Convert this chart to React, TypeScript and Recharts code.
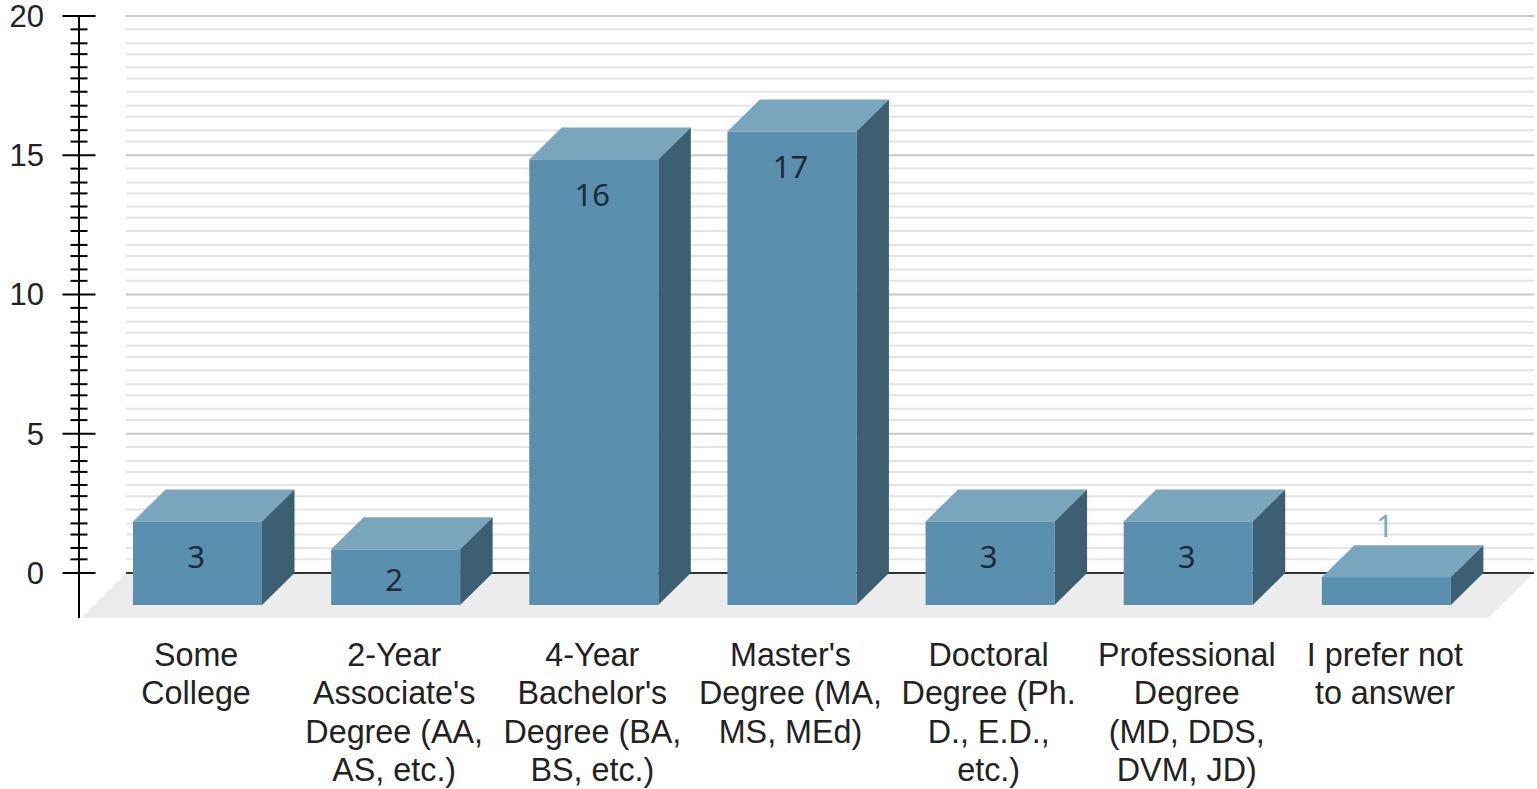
import { Bar, BarChart, CartesianGrid, LabelList, ReferenceArea, XAxis, YAxis } from "recharts"

const CATEGORIES = [
  "Some\nCollege",
  "2-Year\nAssociate's\nDegree (AA,\nAS, etc.)",
  "4-Year\nBachelor's\nDegree (BA,\nBS, etc.)",
  "Master's\nDegree (MA,\nMS, MEd)",
  "Doctoral\nDegree (Ph.\nD., E.D.,\netc.)",
  "Professional\nDegree\n(MD, DDS,\nDVM, JD)",
  "I prefer not\nto answer",
]
const COUNTS = [3, 2, 16, 17, 3, 3, 1]

const MAJOR_TICKS = [0, 5, 10, 15, 20]
const MINOR_STEPS = [0.49, 0.9, 1.38, 1.78, 2.28, 2.76, 3.16, 3.63, 4.02, 4.52]
const ALL_TICKS = MAJOR_TICKS.flatMap((m) => (m === 20 ? [m] : [m, ...MINOR_STEPS.map((s) => m + s)]))

const data = CATEGORIES.map((name, i) => ({ name, count: COUNTS[i] }))

const WIDTH = 1537
const HEIGHT = 789
const AXIS_X = 79
const WALL_X = 126
const DEPTH_X = 32.5
const DEPTH_Y = 32

const BarBox = ({ x, y, width, height }: any) => {
  const fx = x + width
  const topY = y + DEPTH_Y
  const botY = y + height + DEPTH_Y
  return (
    <g>
      <polygon points={`${x},${topY} ${x + DEPTH_X},${y} ${fx + DEPTH_X},${y} ${fx},${topY}`} fill="#79a6bd" />
      <polygon points={`${fx},${topY} ${fx + DEPTH_X},${y} ${fx + DEPTH_X},${y + height} ${fx},${botY}`} fill="#3c5f71" />
      <rect x={x} y={topY} width={width} height={height} fill="#5a8fae" />
    </g>
  )
}

const CountLabel = ({ x, y, width, value }: any) => {
  const cx = x + width / 2 - 1.5
  const above = value === 1
  const dy = value === 2 ? 41.5 : 46.5
  return (
    <text
      x={cx}
      y={above ? y + DEPTH_Y - 40 : y + DEPTH_Y + dy}
      textAnchor="middle"
      fontFamily="Noto Sans"
      fontSize={31}
      fill={above ? "#7fa9c0" : "#1c2b3a"}
    >
      {value}
    </text>
  )
}

const YTick = ({ y, payload }: any) => {
  const major = MAJOR_TICKS.includes(payload.value)
  return (
    <g>
      <line
        x1={major ? AXIS_X - 16.5 : AXIS_X - 8.5}
        x2={major ? AXIS_X + 16.5 : AXIS_X + 8.5}
        y1={y}
        y2={y}
        stroke="#000"
        strokeWidth={2}
      />
      {major && (
        <text x={44} y={y + 11} textAnchor="end" fontFamily="Liberation Sans" fontSize={31} fill="#222">
          {payload.value}
        </text>
      )}
    </g>
  )
}

const XTick = ({ x, payload }: any) => (
  <text textAnchor="middle" fontFamily="Liberation Sans" fontSize={32.3} fill="#222">
    {String(payload.value)
      .split("\n")
      .map((line, i) => (
        <tspan key={i} x={x - 1} y={666 + i * 38.4}>
          {line}
        </tspan>
      ))}
  </text>
)

const GridLine = ({ y1, x2, index }: any) => {
  const value = ALL_TICKS[index]
  const isZero = value === 0
  const major = MAJOR_TICKS.includes(value)
  return (
    <line
      key={index}
      x1={WALL_X}
      x2={x2}
      y1={y1}
      y2={y1}
      stroke={isZero ? "#333" : major ? "#c8c8c8" : "#e4e4e4"}
      strokeWidth={2}
    />
  )
}

// floor sits just under the zero line so it doesn't cover it
const Floor = ({ y, height }: any) => {
  const t = y + 1
  const b = y + height
  return <polygon points={`${WALL_X - 1},${t} 1533,${t} 1488,${b} 81,${b}`} fill="#ececec" />
}

export default function App() {
  return (
    <div style={{ position: "absolute", left: 0, top: 0, width: WIDTH, height: HEIGHT, background: "#fff" }}>
      <BarChart width={WIDTH} height={HEIGHT} data={data} margin={{ top: 16, right: 3, bottom: 0, left: 0 }} barSize={129}>
        <ReferenceArea y1={-1.616} y2={0} shape={<Floor />} ifOverflow="extendDomain" fill="#ececec" />
        <CartesianGrid vertical={false} horizontal={(p: any) => <GridLine {...p} />} horizontalValues={ALL_TICKS} />
        <XAxis
          dataKey="name"
          height={171}
          interval={0}
          axisLine={false}
          tickLine={false}
          padding={{ left: 19, right: 49 }}
          tick={<XTick />}
        />
        <YAxis
          type="number"
          width={AXIS_X}
          domain={[-1.616, 20]}
          ticks={ALL_TICKS}
          interval={0}
          allowDataOverflow
          tickLine={false}
          axisLine={{ stroke: "#000", strokeWidth: 2 }}
          tick={<YTick />}
        />
        <Bar dataKey="count" isAnimationActive={false} shape={<BarBox />}>
          <LabelList dataKey="count" content={<CountLabel />} />
        </Bar>
      </BarChart>
    </div>
  )
}
